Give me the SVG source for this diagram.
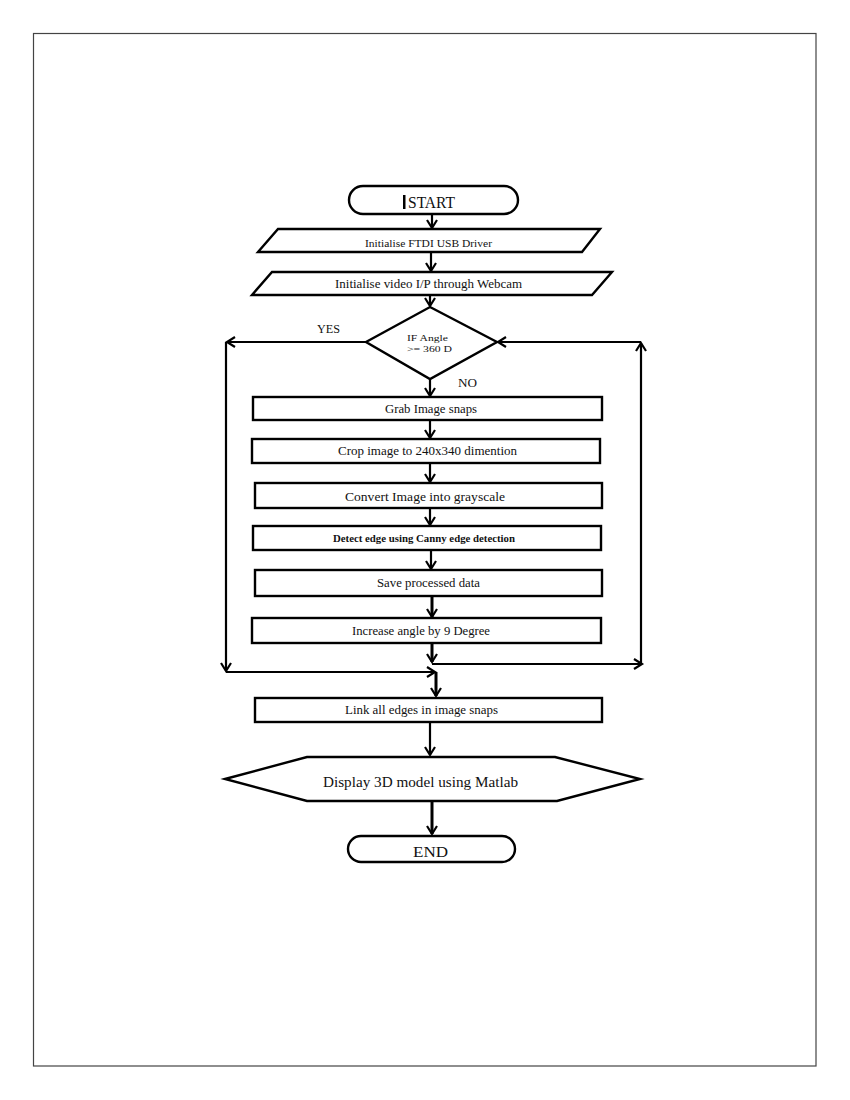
<svg xmlns="http://www.w3.org/2000/svg" width="850" height="1100" viewBox="0 0 850 1100">
<style>
.shape{fill:#fff;stroke:#000;stroke-width:2.4}
.t{font-family:"Liberation Serif","Times New Roman",serif;fill:#111}
.line{fill:none;stroke:#000;stroke-width:2.2}
.thick{stroke-width:3}
</style>
<defs>
<marker id="ah" markerUnits="userSpaceOnUse" markerWidth="14" markerHeight="14" refX="9" refY="6" orient="auto">
<path d="M1,1 L9,6 L1,11" fill="none" stroke="#000" stroke-width="2.2"/>
</marker>
</defs>
<rect x="0" y="0" width="850" height="1100" fill="#fff"/>
<rect x="33.5" y="33.5" width="782.5" height="1032.5" fill="none" stroke="#444" stroke-width="1.2"/>

<g id="connectors">
<line class="line" x1="432" y1="215" x2="432" y2="228" marker-end="url(#ah)"/>
<line class="line" x1="431" y1="252" x2="431" y2="271" marker-end="url(#ah)"/>
<line class="line" x1="430" y1="295" x2="430" y2="306" marker-end="url(#ah)"/>
<!-- YES branch -->
<line class="line" x1="366" y1="342" x2="227" y2="342" marker-end="url(#ah)"/>
<line class="line" x1="226" y1="342" x2="226" y2="671" marker-end="url(#ah)"/>
<line class="line" x1="226" y1="672" x2="435" y2="672" marker-end="url(#ah)"/>
<line class="line thick" x1="436" y1="672" x2="436" y2="696" marker-end="url(#ah)"/>
<!-- NO branch -->
<line class="line" x1="430" y1="379" x2="430" y2="396" marker-end="url(#ah)"/>
<line class="line" x1="430" y1="420" x2="430" y2="438" marker-end="url(#ah)"/>
<line class="line" x1="430" y1="463" x2="430" y2="482" marker-end="url(#ah)"/>
<line class="line" x1="430" y1="508" x2="430" y2="525" marker-end="url(#ah)"/>
<line class="line" x1="431" y1="550" x2="431" y2="569" marker-end="url(#ah)"/>
<line class="line thick" x1="432" y1="596" x2="432" y2="617" marker-end="url(#ah)"/>
<line class="line thick" x1="432" y1="643" x2="432" y2="662" marker-end="url(#ah)"/>
<!-- loop back -->
<line class="line" x1="432" y1="664" x2="642" y2="664" marker-end="url(#ah)"/>
<line class="line" x1="641" y1="664" x2="641" y2="343" marker-end="url(#ah)"/>
<line class="line" x1="641" y1="342" x2="498" y2="342" marker-end="url(#ah)"/>
<!-- bottom -->
<line class="line" x1="430" y1="722" x2="430" y2="755" marker-end="url(#ah)"/>
<line class="line thick" x1="432" y1="801" x2="432" y2="834" marker-end="url(#ah)"/>
</g>

<g id="start">
<rect class="shape" x="349" y="186" width="169" height="28" rx="14" ry="14"/>
<rect x="403" y="195" width="2.5" height="14" fill="#000"/>
<text class="t" x="408" y="208" font-size="16" textLength="47" lengthAdjust="spacingAndGlyphs">START</text>
</g>

<g id="init-ftdi">
<polygon class="shape" points="278,229 600,229 582,252 258,252"/>
<text class="t" x="365" y="247" font-size="10" textLength="127" lengthAdjust="spacingAndGlyphs">Initialise  FTDI USB  Driver</text>
</g>

<g id="init-video">
<polygon class="shape" points="272,272 612,272 592,295 252,295"/>
<text class="t" x="335" y="288" font-size="12.5" textLength="187" lengthAdjust="spacingAndGlyphs">Initialise video I/P through Webcam</text>
</g>

<g id="decision">
<polygon class="shape" points="430,307 497,342 430,379 366,342"/>
<text class="t" x="407" y="341" font-size="9" textLength="41" lengthAdjust="spacingAndGlyphs">IF  Angle</text>
<text class="t" x="407" y="352" font-size="9" textLength="45" lengthAdjust="spacingAndGlyphs">&gt;= 360 D</text>
</g>

<g id="labels">
<text class="t" x="317" y="333" font-size="12" textLength="23" lengthAdjust="spacingAndGlyphs">YES</text>
<text class="t" x="458" y="387" font-size="12" textLength="19" lengthAdjust="spacingAndGlyphs">NO</text>
</g>

<g id="grab">
<rect class="shape" x="253" y="397" width="349" height="23"/>
<text class="t" x="385" y="413" font-size="12" textLength="92" lengthAdjust="spacingAndGlyphs">Grab Image snaps</text>
</g>

<g id="crop">
<rect class="shape" x="252" y="439" width="348" height="24"/>
<text class="t" x="338" y="455" font-size="12.5" textLength="179" lengthAdjust="spacingAndGlyphs">Crop image to 240x340 dimention</text>
</g>

<g id="convert">
<rect class="shape" x="255" y="483" width="347" height="25"/>
<text class="t" x="345" y="501" font-size="12.5" textLength="160" lengthAdjust="spacingAndGlyphs">Convert Image  into grayscale</text>
</g>

<g id="detect">
<rect class="shape" x="253" y="526" width="348" height="24"/>
<text class="t" x="333" y="542" font-size="10.5" font-weight="bold" textLength="182" lengthAdjust="spacingAndGlyphs">Detect edge using Canny edge detection</text>
</g>

<g id="save">
<rect class="shape" x="255" y="570" width="347" height="26"/>
<text class="t" x="377" y="587" font-size="12" textLength="103" lengthAdjust="spacingAndGlyphs">Save processed data</text>
</g>

<g id="increase">
<rect class="shape" x="252" y="618" width="349" height="25"/>
<text class="t" x="352" y="635" font-size="12.5" textLength="138" lengthAdjust="spacingAndGlyphs">Increase angle  by 9 Degree</text>
</g>

<g id="link">
<rect class="shape" x="255" y="698" width="347" height="24"/>
<text class="t" x="345" y="714" font-size="12" textLength="153" lengthAdjust="spacingAndGlyphs">Link all edges in image snaps</text>
</g>

<g id="display">
<polygon class="shape" points="225,779 307,757 555,757 640,779 557,801 307,801"/>
<text class="t" x="323" y="787" font-size="14.5" textLength="195" lengthAdjust="spacingAndGlyphs">Display 3D model using Matlab</text>
</g>

<g id="end">
<rect class="shape" x="348" y="836" width="167" height="26" rx="13" ry="13"/>
<text class="t" x="413" y="857" font-size="15" textLength="35" lengthAdjust="spacingAndGlyphs">END</text>
</g>
</svg>
